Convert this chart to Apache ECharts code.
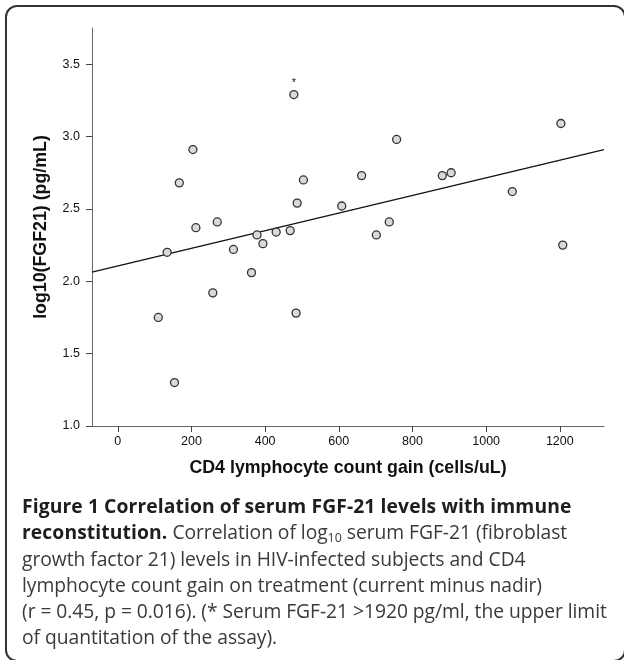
<!DOCTYPE html>
<html>
<head>
<meta charset="utf-8">
<script src="https://cdn.jsdelivr.net/npm/echarts@6/dist/echarts.min.js"></script>
<style>
  html, body { margin: 0; padding: 0; background: #fff; }
  #wrap { position: relative; width: 624px; height: 660px; overflow: hidden; background: #fff; }
  #frame { position: absolute; left: 5px; top: 5px; width: 621px; height: 657px; box-sizing: border-box;
           border: 2px solid #333; border-radius: 12px; }
  #chart { position: absolute; left: 0; top: 0; width: 624px; height: 660px; }
  #caption { position: absolute; left: 22px; top: 493px; width: 600px; font-family: "Open Sans", sans-serif;
             font-size: 19.3px; line-height: 26.3px; color: #3a3a3a; white-space: nowrap; letter-spacing: -0.05px; }
  #caption b { color: #1e1e1e; font-weight: 700; letter-spacing: 0.1px; }
  #caption sub { font-size: 12.5px; line-height: 0; vertical-align: -3px; }
</style>
</head>
<body>
<div id="wrap">
  <div id="chart"></div>
  <div id="frame"></div>
  <div id="caption">
    <b>Figure 1 Correlation of serum FGF-21 levels with immune</b><br>
    <b>reconstitution.</b> Correlation of log<sub>10</sub> serum FGF-21 (fibroblast<br>
    growth factor 21) levels in HIV-infected subjects and CD4<br>
    lymphocyte count gain on treatment (current minus nadir)<br>
    (r = 0.45, p = 0.016). (* Serum FGF-21 &gt;1920 pg/ml, the upper limit<br>
    of quantitation of the assay).
  </div>
</div>
<script>
// CD4 lymphocyte count gain (cells/uL)
const cd4Gain = [110, 154, 134, 167, 204, 212, 258, 270, 314, 363, 378, 394, 430, 468, 478, 487, 484, 504,
                 608, 662, 702, 737, 757, 881, 905, 1071, 1203, 1208];
// log10(FGF21) (pg/mL)
const logFGF21 = [1.75, 1.30, 2.20, 2.68, 2.91, 2.37, 1.92, 2.41, 2.22, 2.06, 2.32, 2.26, 2.34, 2.35, 3.29, 2.54, 1.78, 2.70,
                  2.52, 2.73, 2.32, 2.41, 2.98, 2.73, 2.75, 2.62, 3.09, 2.25];
// notes shown above points (* = above upper limit of quantitation)
const pointNotes = ['', '', '', '', '', '', '', '', '', '', '', '', '', '', '*', '', '', '',
                    '', '', '', '', '', '', '', '', '', ''];
// fitted regression line, read at both ends of the x axis
const fitX = [-70, 1320];
const fitY = [2.063, 2.909];
// axis ticks
const xTicks = [0, 200, 400, 600, 800, 1000, 1200];
const yTicks = [1.0, 1.5, 2.0, 2.5, 3.0, 3.5];
const xRange = [-70, 1320];
const yRange = [1.0, 3.75];

const chart = echarts.init(document.getElementById('chart'));
const axisFont = 'Liberation Sans';
const pts = cd4Gain.map((x, i) => ({
  value: [x, logFGF21[i]],
  label: pointNotes[i] ? { show: true, formatter: pointNotes[i] } : { show: false }
}));
chart.setOption({
  animation: false,
  backgroundColor: '#fff',
  grid: { left: 92, right: 20, top: 28, bottom: 234 },
  xAxis: {
    type: 'value', min: xRange[0], max: xRange[1],
    splitLine: { show: false },
    axisLine: { onZero: false, lineStyle: { color: '#666', width: 1 } },
    axisTick: { customValues: xTicks, length: 6, lineStyle: { color: '#444' } },
    axisLabel: { customValues: xTicks, color: '#111', fontSize: 12.5, fontFamily: axisFont, margin: 9,
                 formatter: v => String(v) },
    name: 'CD4 lymphocyte count gain (cells/uL)', nameLocation: 'middle', nameGap: 33,
    nameTextStyle: { fontWeight: 'bold', fontSize: 17.8, color: '#111', fontFamily: axisFont }
  },
  yAxis: {
    type: 'value', min: yRange[0], max: yRange[1],
    splitLine: { show: false },
    axisLine: { show: true, onZero: false, lineStyle: { color: '#666', width: 1 } },
    axisTick: { show: true, customValues: yTicks, length: 6, lineStyle: { color: '#444' } },
    axisLabel: { customValues: yTicks, color: '#111', fontSize: 12.5, fontFamily: axisFont, margin: 12,
                 formatter: v => Number(v).toFixed(1) },
    name: 'log10(FGF21) (pg/mL)', nameLocation: 'middle', nameGap: 42,
    nameTextStyle: { fontWeight: 'bold', fontSize: 17.8, color: '#111', fontFamily: axisFont }
  },
  series: [
    {
      type: 'line', data: fitX.map((x, i) => [x, fitY[i]]), symbol: 'none', silent: true, z: 1,
      lineStyle: { color: '#111', width: 1.3 }
    },
    {
      type: 'scatter', data: pts, symbol: 'circle', symbolSize: 8, z: 3,
      itemStyle: { color: '#d9d9d9', borderColor: '#333', borderWidth: 1.3, opacity: 1 },
      label: { position: 'top', distance: 1, color: '#222', fontSize: 11, fontFamily: axisFont }
    }
  ]
});
</script>
</body>
</html>
